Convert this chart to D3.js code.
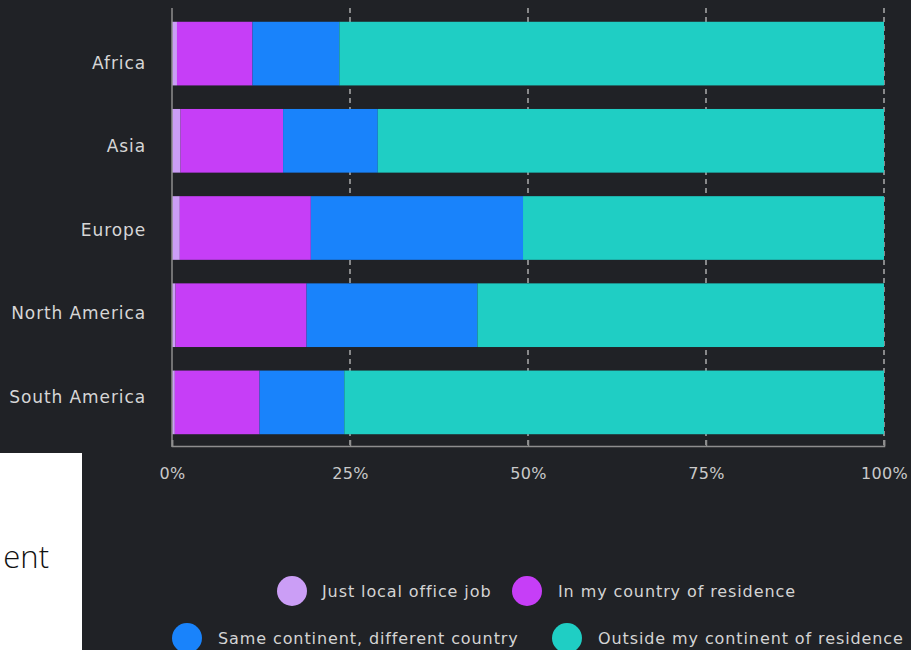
<!DOCTYPE html>
<html>
<head>
<meta charset="utf-8">
<script src="https://cdn.jsdelivr.net/npm/d3@7"></script>
<style>
  html, body { margin: 0; padding: 0; background: #202226; overflow: hidden; }
  svg { display: block; }
  text { font-family: "DejaVu Sans", sans-serif; }
</style>
</head>
<body>
<svg id="chart" width="911" height="650"></svg>
<script>
// Work location scope by region (share of respondents, %)
const regions = ["Africa", "Asia", "Europe", "North America", "South America"];
const seriesKeys = ["local", "country", "continent", "outside"];
const seriesLabels = [
  "Just local office job",
  "In my country of residence",
  "Same continent, different country",
  "Outside my continent of residence"
];
const localOffice      = [0.7, 1.2, 1.1, 0.5, 0.4];
const inCountry        = [10.6, 14.4, 18.4, 18.4, 11.9];
const sameContinent    = [12.2, 13.3, 29.8, 24.0, 11.9];
const outsideContinent = [76.5, 71.1, 50.7, 57.1, 75.8];
const xTicks = [0, 25, 50, 75, 100];
const xTickLabels = ["0%", "25%", "50%", "75%", "100%"];
const seriesColors = ["#cb9ef6", "#c63ef7", "#1983fb", "#1fcec4"];

const rows = regions.map((r, i) => ({
  region: r,
  local: localOffice[i],
  country: inCountry[i],
  continent: sameContinent[i],
  outside: outsideContinent[i]
}));

const svg = d3.select("#chart");
svg.append("rect").attr("width", 911).attr("height", 650).attr("fill", "#202226");

const x = d3.scaleLinear().domain([0, 100]).range([172, 884]);
const y = d3.scaleBand().domain(regions).range([10, 446])
  .paddingInner(0.27).paddingOuter(0.135);
const yLabel = d3.scalePoint().domain(regions).range([63, 397]);
const color = d3.scaleOrdinal().domain(seriesKeys).range(seriesColors);

// dashed vertical gridlines
svg.append("g").selectAll("line")
  .data(xTicks.filter(t => t > 0))
  .join("line")
  .attr("x1", d => x(d)).attr("x2", d => x(d))
  .attr("y1", 8).attr("y2", 446)
  .attr("stroke", "#b4b4b4")
  .attr("stroke-width", 1.4)
  .attr("stroke-dasharray", "5,4");

// stacked bars
const stacked = d3.stack().keys(seriesKeys)(rows);
svg.append("g").selectAll("g")
  .data(stacked)
  .join("g")
  .attr("fill", d => color(d.key))
  .selectAll("rect")
  .data(d => d)
  .join("rect")
  .attr("x", d => x(d[0]))
  .attr("width", d => x(d[1]) - x(d[0]))
  .attr("y", d => y(d.data.region))
  .attr("height", y.bandwidth());

// left axis line
svg.append("line")
  .attr("x1", 172).attr("x2", 172)
  .attr("y1", 8).attr("y2", 447)
  .attr("stroke", "#8e8e8e").attr("stroke-width", 1.5);

// bottom axis
const xAxis = svg.append("g")
  .attr("transform", "translate(0,446)")
  .call(d3.axisBottom(x).tickValues(xTicks)
    .tickFormat((d, i) => xTickLabels[i])
    .tickSizeInner(-6).tickSizeOuter(-6).tickPadding(22));
xAxis.select(".domain").attr("stroke", "#8e8e8e").attr("stroke-width", 1.5);
xAxis.selectAll(".tick line").attr("stroke", "#8e8e8e").attr("stroke-width", 1.5);
xAxis.selectAll(".tick text")
  .attr("fill", "#c9c9c9")
  .style("font-size", "16px")
  .style("letter-spacing", "0.3px")
  .style("font-family", "'DejaVu Sans', sans-serif");

// region labels
const yAxis = svg.append("g")
  .attr("transform", "translate(146,0)")
  .call(d3.axisLeft(yLabel).tickSize(0).tickPadding(0));
yAxis.select(".domain").remove();
yAxis.selectAll(".tick text")
  .attr("fill", "#d6d6d6")
  .style("font-size", "17px")
  .style("letter-spacing", "0.9px")
  .style("font-family", "'DejaVu Sans', sans-serif");

// legend
const legendPos = [
  { cx: 292, tx: 322, y: 591 },
  { cx: 527, tx: 558, y: 591 },
  { cx: 187, tx: 218, y: 638 },
  { cx: 567, tx: 598, y: 638 }
];
const legend = svg.append("g").selectAll("g")
  .data(seriesKeys)
  .join("g");
legend.append("circle")
  .attr("cx", (d, i) => legendPos[i].cx)
  .attr("cy", (d, i) => legendPos[i].y)
  .attr("r", 15)
  .attr("fill", d => color(d));
legend.append("text")
  .attr("x", (d, i) => legendPos[i].tx)
  .attr("y", (d, i) => legendPos[i].y + 6)
  .attr("fill", "#d4d4d4")
  .style("font-size", "16px")
  .style("letter-spacing", "0.9px")
  .text((d, i) => seriesLabels[i]);

// white panel at lower left
svg.append("rect")
  .attr("x", 0).attr("y", 453).attr("width", 82).attr("height", 197)
  .attr("fill", "#ffffff");
svg.append("text")
  .attr("x", 49).attr("y", 568)
  .attr("text-anchor", "end")
  .attr("fill", "#111111")
  .style("font-family", "'Open Sans', sans-serif")
  .style("font-weight", 300)
  .style("font-size", "31px")
  .text("ent");
</script>
</body>
</html>
